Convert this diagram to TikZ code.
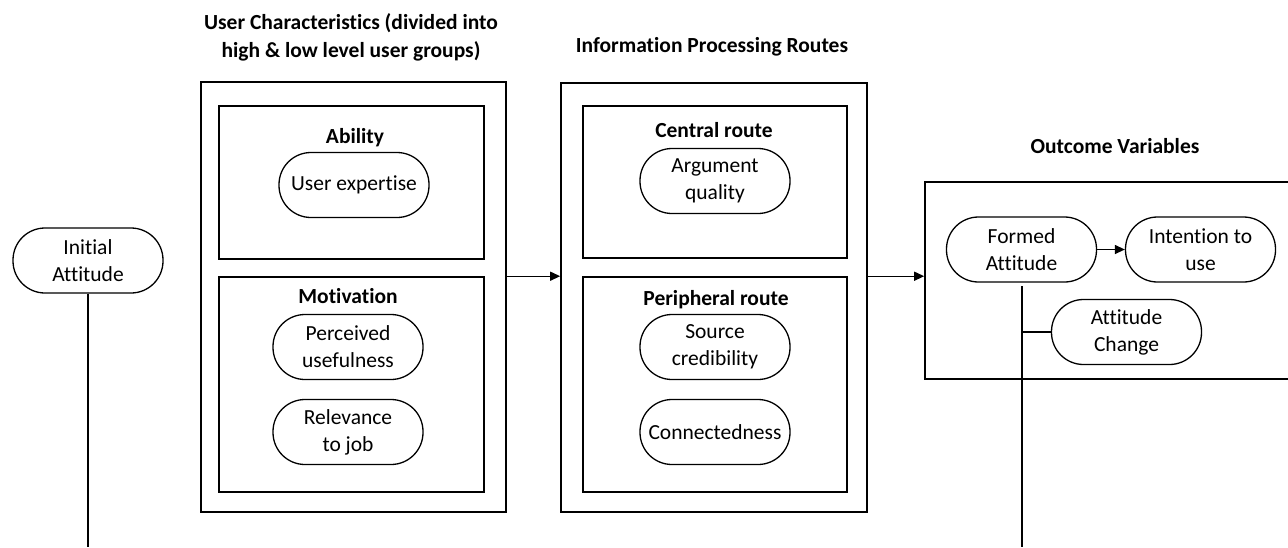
\documentclass[tikz,border=0pt]{standalone}
\usepackage{fontspec}
\setmainfont{Carlito}[Ligatures={NoCommon,NoContextual}]
\usetikzlibrary{arrows.meta}
\begin{document}
\begin{tikzpicture}[x=1pt,y=-1pt,
  every node/.style={font=\fontsize{21.5}{27}\selectfont},
  frame/.style={draw, line width=1.6pt, inner sep=0pt},
  pill/.style={draw, line width=1.3pt, rounded corners=32pt, align=center,
    minimum width=150pt, minimum height=65pt, inner sep=2pt},
  heading/.style={font=\fontsize{21.5}{28}\selectfont\bfseries, align=center, anchor=base},
  link/.style={line width=1.3pt},
  arrow/.style={line width=1.3pt, -{Triangle[length=10pt,width=9pt]}}]
\useasboundingbox (0,0) rectangle (1288,547);

% column headings (base anchor sits on the last line)
\node[heading] (h1) at (351,57) {User Characteristics (divided into\\high \& low level user groups)};
\node[heading] (h2) at (712,52) {Information Processing Routes};
\node[heading] (h3) at (1115,153) {Outcome Variables};

% initial attitude
\node[pill] (ia) at (88,260.5) {Initial\\Attitude};
\coordinate (iaend) at (88,547);
\draw[link] (ia.south) -- (iaend);

% user characteristics
\node[frame, minimum width=305pt, minimum height=430pt] (ucbox) at (353.5,297) {};
\node[frame, minimum width=265pt, minimum height=153pt] (ability) at (351.5,182.5) {};
\node[frame, minimum width=265pt, minimum height=215pt] (motivation) at (351.5,384.5) {};
\node[heading] (abl) at (355,143) {Ability};
\node[heading] (mol) at (348,303) {Motivation};
\node[pill] (ue) at (354,185) {User expertise};
\node[pill] (pu) at (348,347) {Perceived\\usefulness};
\node[pill] (rj) at (348,432) {Relevance\\to job};

% information processing routes
\node[frame, minimum width=306pt, minimum height=429pt] (ipbox) at (714,297.5) {};
\node[frame, minimum width=264pt, minimum height=152pt] (central) at (715,182) {};
\node[frame, minimum width=264pt, minimum height=215pt] (peripheral) at (715,384.5) {};
\node[heading] (cel) at (714,137) {Central route};
\node[heading] (pel) at (716,305) {Peripheral route};
\node[pill] (aq) at (715,181) {Argument\\quality};
\node[pill] (sc) at (715,347) {Source\\credibility};
\node[pill] (cn) at (715,432) {Connectedness};

% outcome variables
\node[frame, minimum width=380pt, minimum height=197pt] (ovbox) at (1115,280.5) {};
\node[pill] (fa) at (1021.5,249.5) {Formed\\Attitude};
\node[pill] (iu) at (1200.5,249.5) {Intention to\\use};
\node[pill] (ac) at (1126.5,332) {Attitude\\Change};
\coordinate (fatop) at (1022,286);
\coordinate (faend) at (1022,547);

% connectors
\draw[arrow] (ucbox.east |- motivation.north) -- (ipbox.west |- motivation.north);
\draw[arrow] (ipbox.east |- peripheral.north) -- (ovbox.west |- peripheral.north);
\draw[arrow] (fa) -- (iu);
\draw[link] (fatop) -- (faend);
\draw[link] (ac.west) -- (ac.west -| fatop);
\end{tikzpicture}
\end{document}
